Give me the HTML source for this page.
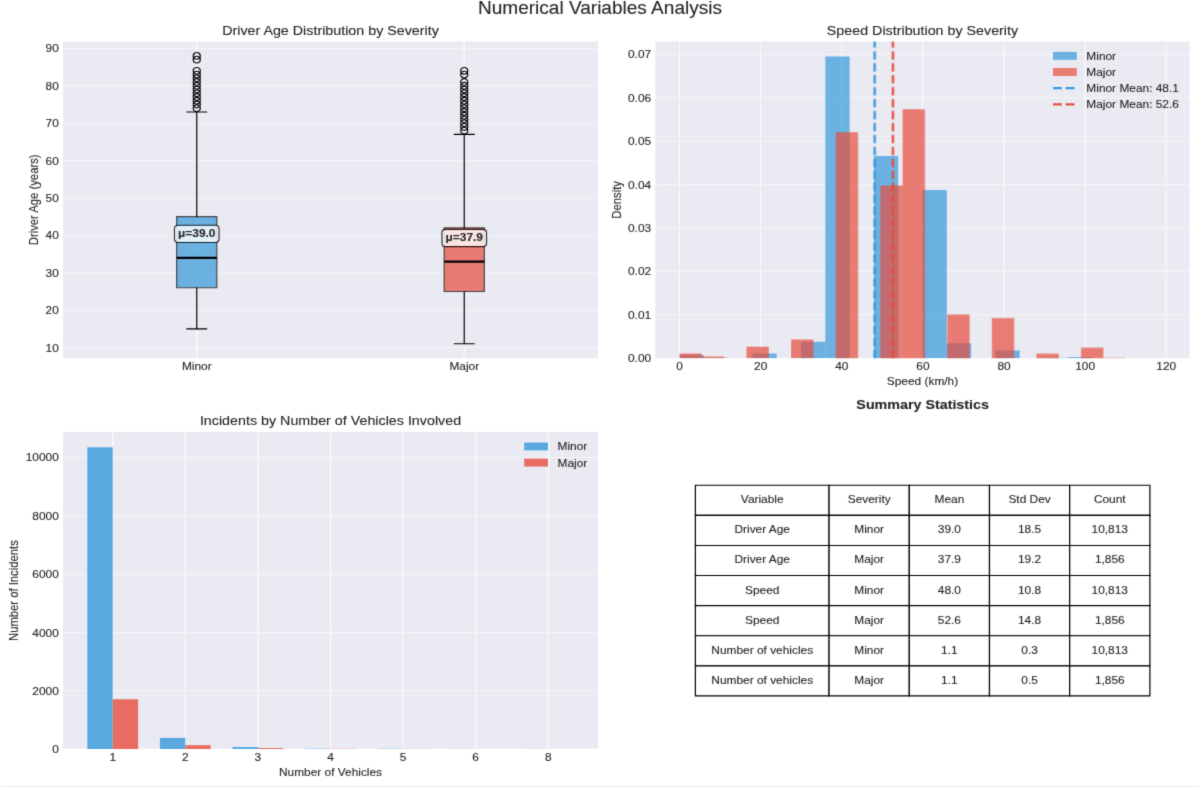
<!DOCTYPE html>
<html><head><meta charset="utf-8"><title>Numerical Variables Analysis</title>
<style>html,body{margin:0;padding:0;background:#fff;width:1200px;height:788px;overflow:hidden;position:relative}svg{display:block}
text{font-family:"Liberation Sans",sans-serif;stroke:#262626;stroke-width:0.1px;stroke-opacity:1}
.edge{position:absolute;left:1px;right:1px;top:786px;height:1px;background:#e8f1e8}</style></head><body>
<svg width="1200" height="788" preserveAspectRatio="none" viewBox="0 0 1008 699.20142" version="1.1"> <defs><filter id="soft" x="0" y="0" width="1" height="1" filterUnits="objectBoundingBox" color-interpolation-filters="sRGB"><feConvolveMatrix order="3" kernelMatrix="1 6 1 6 36 6 1 6 1" divisor="64" edgeMode="duplicate"/></filter> <style type="text/css">*{stroke-linejoin: round; stroke-linecap: butt}</style> </defs> <g id="figure_1" filter="url(#soft)"> <g id="patch_1"> <path d="M 0 699.20142 L 1008 699.20142 L 1008 0 L 0 0 z " style="fill: #ffffff"/> </g> <g id="axes_1"> <g id="patch_2"> <path d="M 52.92 317.83496 L 502.32 317.83496 L 502.32 36.823425 L 52.92 36.823425 z " style="fill: #eaeaf2"/> </g> <g id="matplotlib.axis_1"> <g id="xtick_1"> <g id="line2d_1"> <path d="M 165.27 317.83496 L 165.27 36.823425 " clip-path="url(#p9fd3da8a66)" style="fill: none; stroke: #ffffff; stroke-width: 0.8; stroke-linecap: round"/> </g> <g id="line2d_2"/> <g id="text_1"> <text style="font-size: 10px; font-family: 'Liberation Sans', sans-serif; text-anchor: middle; fill: #262626" x="165.27" y="328.581835">Minor</text> </g> </g> <g id="xtick_2"> <g id="line2d_3"> <path d="M 389.97 317.83496 L 389.97 36.823425 " clip-path="url(#p9fd3da8a66)" style="fill: none; stroke: #ffffff; stroke-width: 0.8; stroke-linecap: round"/> </g> <g id="line2d_4"/> <g id="text_2"> <text style="font-size: 10px; font-family: 'Liberation Sans', sans-serif; text-anchor: middle; fill: #262626" x="389.97" y="328.581835">Major</text> </g> </g> </g> <g id="matplotlib.axis_2"> <g id="ytick_1"> <g id="line2d_5"> <path d="M 52.92 308.379436 L 502.32 308.379436 " clip-path="url(#p9fd3da8a66)" style="fill: none; stroke: #ffffff; stroke-opacity: 0.5; stroke-width: 0.8; stroke-linecap: round"/> </g> <g id="line2d_6"/> <g id="text_3"> <text style="font-size: 10px; font-family: 'Liberation Sans', sans-serif; text-anchor: end; fill: #262626" x="49.42" y="312.002874">10</text> </g> </g> <g id="ytick_2"> <g id="line2d_7"> <path d="M 52.92 275.202159 L 502.32 275.202159 " clip-path="url(#p9fd3da8a66)" style="fill: none; stroke: #ffffff; stroke-opacity: 0.5; stroke-width: 0.8; stroke-linecap: round"/> </g> <g id="line2d_8"/> <g id="text_4"> <text style="font-size: 10px; font-family: 'Liberation Sans', sans-serif; text-anchor: end; fill: #262626" x="49.42" y="278.825597">20</text> </g> </g> <g id="ytick_3"> <g id="line2d_9"> <path d="M 52.92 242.024882 L 502.32 242.024882 " clip-path="url(#p9fd3da8a66)" style="fill: none; stroke: #ffffff; stroke-opacity: 0.5; stroke-width: 0.8; stroke-linecap: round"/> </g> <g id="line2d_10"/> <g id="text_5"> <text style="font-size: 10px; font-family: 'Liberation Sans', sans-serif; text-anchor: end; fill: #262626" x="49.42" y="245.64832">30</text> </g> </g> <g id="ytick_4"> <g id="line2d_11"> <path d="M 52.92 208.847606 L 502.32 208.847606 " clip-path="url(#p9fd3da8a66)" style="fill: none; stroke: #ffffff; stroke-opacity: 0.5; stroke-width: 0.8; stroke-linecap: round"/> </g> <g id="line2d_12"/> <g id="text_6"> <text style="font-size: 10px; font-family: 'Liberation Sans', sans-serif; text-anchor: end; fill: #262626" x="49.42" y="212.471043">40</text> </g> </g> <g id="ytick_5"> <g id="line2d_13"> <path d="M 52.92 175.670329 L 502.32 175.670329 " clip-path="url(#p9fd3da8a66)" style="fill: none; stroke: #ffffff; stroke-opacity: 0.5; stroke-width: 0.8; stroke-linecap: round"/> </g> <g id="line2d_14"/> <g id="text_7"> <text style="font-size: 10px; font-family: 'Liberation Sans', sans-serif; text-anchor: end; fill: #262626" x="49.42" y="179.293766">50</text> </g> </g> <g id="ytick_6"> <g id="line2d_15"> <path d="M 52.92 142.493052 L 502.32 142.493052 " clip-path="url(#p9fd3da8a66)" style="fill: none; stroke: #ffffff; stroke-opacity: 0.5; stroke-width: 0.8; stroke-linecap: round"/> </g> <g id="line2d_16"/> <g id="text_8"> <text style="font-size: 10px; font-family: 'Liberation Sans', sans-serif; text-anchor: end; fill: #262626" x="49.42" y="146.116489">60</text> </g> </g> <g id="ytick_7"> <g id="line2d_17"> <path d="M 52.92 109.315775 L 502.32 109.315775 " clip-path="url(#p9fd3da8a66)" style="fill: none; stroke: #ffffff; stroke-opacity: 0.5; stroke-width: 0.8; stroke-linecap: round"/> </g> <g id="line2d_18"/> <g id="text_9"> <text style="font-size: 10px; font-family: 'Liberation Sans', sans-serif; text-anchor: end; fill: #262626" x="49.42" y="112.939212">70</text> </g> </g> <g id="ytick_8"> <g id="line2d_19"> <path d="M 52.92 76.138498 L 502.32 76.138498 " clip-path="url(#p9fd3da8a66)" style="fill: none; stroke: #ffffff; stroke-opacity: 0.5; stroke-width: 0.8; stroke-linecap: round"/> </g> <g id="line2d_20"/> <g id="text_10"> <text style="font-size: 10px; font-family: 'Liberation Sans', sans-serif; text-anchor: end; fill: #262626" x="49.42" y="79.761936">80</text> </g> </g> <g id="ytick_9"> <g id="line2d_21"> <path d="M 52.92 42.961221 L 502.32 42.961221 " clip-path="url(#p9fd3da8a66)" style="fill: none; stroke: #ffffff; stroke-opacity: 0.5; stroke-width: 0.8; stroke-linecap: round"/> </g> <g id="line2d_22"/> <g id="text_11"> <text style="font-size: 10px; font-family: 'Liberation Sans', sans-serif; text-anchor: end; fill: #262626" x="49.42" y="46.584659">90</text> </g> </g> <g id="text_12"> <text style="font-size: 10px; font-family: 'Liberation Sans', sans-serif; text-anchor: middle; fill: #262626" x="32.223125" y="177.329193" transform="rotate(-90 32.223125 177.329193)">Driver Age (years)</text> </g> </g> <g id="patch_3"> <path d="M 148.4175 255.295793 L 182.1225 255.295793 L 182.1225 192.258967 L 148.4175 192.258967 L 148.4175 255.295793 z " clip-path="url(#p9fd3da8a66)" style="fill: #3498db; opacity: 0.7; stroke: #000000; stroke-linejoin: miter"/> </g> <g id="line2d_23"> <path d="M 165.27 255.295793 L 165.27 291.790798 " clip-path="url(#p9fd3da8a66)" style="fill: none; stroke: #000000; stroke-linecap: round"/> </g> <g id="line2d_24"> <path d="M 165.27 192.258967 L 165.27 99.362592 " clip-path="url(#p9fd3da8a66)" style="fill: none; stroke: #000000; stroke-linecap: round"/> </g> <g id="line2d_25"> <path d="M 156.84375 291.790798 L 173.69625 291.790798 " clip-path="url(#p9fd3da8a66)" style="fill: none; stroke: #000000; stroke-linecap: round"/> </g> <g id="line2d_26"> <path d="M 156.84375 99.362592 L 173.69625 99.362592 " clip-path="url(#p9fd3da8a66)" style="fill: none; stroke: #000000; stroke-linecap: round"/> </g> <g id="line2d_27"> <defs> <path id="macc15b09c7" d="M 0 3 C 0.795609 3 1.55874 2.683901 2.12132 2.12132 C 2.683901 1.55874 3 0.795609 3 0 C 3 -0.795609 2.683901 -1.55874 2.12132 -2.12132 C 1.55874 -2.683901 0.795609 -3 0 -3 C -0.795609 -3 -1.55874 -2.683901 -2.12132 -2.12132 C -2.683901 -1.55874 -3 -0.795609 -3 0 C -3 0.795609 -2.683901 1.55874 -2.12132 2.12132 C -1.55874 2.683901 -0.795609 3 0 3 z " style="stroke: #000000"/> </defs> <g clip-path="url(#p9fd3da8a66)"> <use href="#macc15b09c7" x="165.27" y="96.044864" style="fill-opacity: 0; stroke: #000000"/> <use href="#macc15b09c7" x="165.27" y="92.727137" style="fill-opacity: 0; stroke: #000000"/> <use href="#macc15b09c7" x="165.27" y="89.409409" style="fill-opacity: 0; stroke: #000000"/> <use href="#macc15b09c7" x="165.27" y="86.091681" style="fill-opacity: 0; stroke: #000000"/> <use href="#macc15b09c7" x="165.27" y="82.773953" style="fill-opacity: 0; stroke: #000000"/> <use href="#macc15b09c7" x="165.27" y="79.456226" style="fill-opacity: 0; stroke: #000000"/> <use href="#macc15b09c7" x="165.27" y="76.138498" style="fill-opacity: 0; stroke: #000000"/> <use href="#macc15b09c7" x="165.27" y="72.82077" style="fill-opacity: 0; stroke: #000000"/> <use href="#macc15b09c7" x="165.27" y="69.503043" style="fill-opacity: 0; stroke: #000000"/> <use href="#macc15b09c7" x="165.27" y="66.185315" style="fill-opacity: 0; stroke: #000000"/> <use href="#macc15b09c7" x="165.27" y="62.867587" style="fill-opacity: 0; stroke: #000000"/> <use href="#macc15b09c7" x="165.27" y="52.914404" style="fill-opacity: 0; stroke: #000000"/> <use href="#macc15b09c7" x="165.27" y="49.596677" style="fill-opacity: 0; stroke: #000000"/> </g> </g> <g id="patch_4"> <path d="M 373.1175 258.613521 L 406.8225 258.613521 L 406.8225 202.21215 L 373.1175 202.21215 L 373.1175 258.613521 z " clip-path="url(#p9fd3da8a66)" style="fill: #e74c3c; opacity: 0.7; stroke: #000000; stroke-linejoin: miter"/> </g> <g id="line2d_28"> <path d="M 389.97 258.613521 L 389.97 305.061708 " clip-path="url(#p9fd3da8a66)" style="fill: none; stroke: #000000; stroke-linecap: round"/> </g> <g id="line2d_29"> <path d="M 389.97 202.21215 L 389.97 119.268958 " clip-path="url(#p9fd3da8a66)" style="fill: none; stroke: #000000; stroke-linecap: round"/> </g> <g id="line2d_30"> <path d="M 381.54375 305.061708 L 398.39625 305.061708 " clip-path="url(#p9fd3da8a66)" style="fill: none; stroke: #000000; stroke-linecap: round"/> </g> <g id="line2d_31"> <path d="M 381.54375 119.268958 L 398.39625 119.268958 " clip-path="url(#p9fd3da8a66)" style="fill: none; stroke: #000000; stroke-linecap: round"/> </g> <g id="line2d_32"> <g clip-path="url(#p9fd3da8a66)"> <use href="#macc15b09c7" x="389.97" y="115.95123" style="fill-opacity: 0; stroke: #000000"/> <use href="#macc15b09c7" x="389.97" y="112.633503" style="fill-opacity: 0; stroke: #000000"/> <use href="#macc15b09c7" x="389.97" y="109.315775" style="fill-opacity: 0; stroke: #000000"/> <use href="#macc15b09c7" x="389.97" y="105.998047" style="fill-opacity: 0; stroke: #000000"/> <use href="#macc15b09c7" x="389.97" y="102.68032" style="fill-opacity: 0; stroke: #000000"/> <use href="#macc15b09c7" x="389.97" y="99.362592" style="fill-opacity: 0; stroke: #000000"/> <use href="#macc15b09c7" x="389.97" y="96.044864" style="fill-opacity: 0; stroke: #000000"/> <use href="#macc15b09c7" x="389.97" y="92.727137" style="fill-opacity: 0; stroke: #000000"/> <use href="#macc15b09c7" x="389.97" y="89.409409" style="fill-opacity: 0; stroke: #000000"/> <use href="#macc15b09c7" x="389.97" y="86.091681" style="fill-opacity: 0; stroke: #000000"/> <use href="#macc15b09c7" x="389.97" y="82.773953" style="fill-opacity: 0; stroke: #000000"/> <use href="#macc15b09c7" x="389.97" y="79.456226" style="fill-opacity: 0; stroke: #000000"/> <use href="#macc15b09c7" x="389.97" y="76.138498" style="fill-opacity: 0; stroke: #000000"/> <use href="#macc15b09c7" x="389.97" y="72.82077" style="fill-opacity: 0; stroke: #000000"/> <use href="#macc15b09c7" x="389.97" y="66.185315" style="fill-opacity: 0; stroke: #000000"/> <use href="#macc15b09c7" x="389.97" y="62.867587" style="fill-opacity: 0; stroke: #000000"/> </g> </g> <g id="line2d_33"> <path d="M 148.4175 228.753972 L 182.1225 228.753972 " clip-path="url(#p9fd3da8a66)" style="fill: none; stroke: #000000; stroke-width: 2"/> </g> <g id="line2d_34"> <path d="M 373.1175 232.071699 L 406.8225 232.071699 " clip-path="url(#p9fd3da8a66)" style="fill: none; stroke: #000000; stroke-width: 2"/> </g> <g id="patch_5"> <path d="M 52.92 317.83496 L 52.92 36.823425 " style="fill: none"/> </g> <g id="patch_6"> <path d="M 502.32 317.83496 L 502.32 36.823425 " style="fill: none"/> </g> <g id="patch_7"> <path d="M 52.92 317.83496 L 502.32 317.83496 " style="fill: none"/> </g> <g id="patch_8"> <path d="M 52.92 36.823425 L 502.32 36.823425 " style="fill: none"/> </g> <g id="text_13"> <g id="patch_9"> <path d="M 149.559844 215.165333 L 180.980156 215.165333 Q 183.980156 215.165333 183.980156 212.165333 L 183.980156 202.843458 Q 183.980156 199.843458 180.980156 199.843458 L 149.559844 199.843458 Q 146.559844 199.843458 146.559844 202.843458 L 146.559844 212.165333 Q 146.559844 215.165333 149.559844 215.165333 z " style="fill: #ffffff; opacity: 0.8; stroke: #000000; stroke-linejoin: miter"/> </g> <text style="font-weight: 700; font-size: 10px; font-family: 'Liberation Sans', sans-serif; text-anchor: middle; fill: #262626" x="165.27" y="210.090333">μ=39.0</text> </g> <g id="text_14"> <g id="patch_10"> <path d="M 374.259844 218.814834 L 405.680156 218.814834 Q 408.680156 218.814834 408.680156 215.814834 L 408.680156 206.492959 Q 408.680156 203.492959 405.680156 203.492959 L 374.259844 203.492959 Q 371.259844 203.492959 371.259844 206.492959 L 371.259844 215.814834 Q 371.259844 218.814834 374.259844 218.814834 z " style="fill: #ffffff; opacity: 0.8; stroke: #000000; stroke-linejoin: miter"/> </g> <text style="font-weight: 700; font-size: 10px; font-family: 'Liberation Sans', sans-serif; text-anchor: middle; fill: #262626" x="389.97" y="213.739834">μ=37.9</text> </g> <g id="text_15"> <text style="font-size: 12px; font-family: 'Liberation Sans', sans-serif; text-anchor: middle; fill: #262626" x="277.62" y="30.823425">Driver Age Distribution by Severity</text> </g> </g> <g id="axes_2"> <g id="patch_11"> <path d="M 550.452 317.83496 L 999.348 317.83496 L 999.348 36.823425 L 550.452 36.823425 z " style="fill: #eaeaf2"/> </g> <g id="matplotlib.axis_3"> <g id="xtick_3"> <g id="line2d_35"> <path d="M 570.856364 317.83496 L 570.856364 36.823425 " clip-path="url(#p50f9d82203)" style="fill: none; stroke: #ffffff; stroke-width: 0.8; stroke-linecap: round"/> </g> <g id="line2d_36"/> <g id="text_16"> <text style="font-size: 10px; font-family: 'Liberation Sans', sans-serif; text-anchor: middle; fill: #262626" x="570.856364" y="328.581835">0</text> </g> </g> <g id="xtick_4"> <g id="line2d_37"> <path d="M 638.984456 317.83496 L 638.984456 36.823425 " clip-path="url(#p50f9d82203)" style="fill: none; stroke: #ffffff; stroke-width: 0.8; stroke-linecap: round"/> </g> <g id="line2d_38"/> <g id="text_17"> <text style="font-size: 10px; font-family: 'Liberation Sans', sans-serif; text-anchor: middle; fill: #262626" x="638.984456" y="328.581835">20</text> </g> </g> <g id="xtick_5"> <g id="line2d_39"> <path d="M 707.112548 317.83496 L 707.112548 36.823425 " clip-path="url(#p50f9d82203)" style="fill: none; stroke: #ffffff; stroke-width: 0.8; stroke-linecap: round"/> </g> <g id="line2d_40"/> <g id="text_18"> <text style="font-size: 10px; font-family: 'Liberation Sans', sans-serif; text-anchor: middle; fill: #262626" x="707.112548" y="328.581835">40</text> </g> </g> <g id="xtick_6"> <g id="line2d_41"> <path d="M 775.24064 317.83496 L 775.24064 36.823425 " clip-path="url(#p50f9d82203)" style="fill: none; stroke: #ffffff; stroke-width: 0.8; stroke-linecap: round"/> </g> <g id="line2d_42"/> <g id="text_19"> <text style="font-size: 10px; font-family: 'Liberation Sans', sans-serif; text-anchor: middle; fill: #262626" x="775.24064" y="328.581835">60</text> </g> </g> <g id="xtick_7"> <g id="line2d_43"> <path d="M 843.368733 317.83496 L 843.368733 36.823425 " clip-path="url(#p50f9d82203)" style="fill: none; stroke: #ffffff; stroke-width: 0.8; stroke-linecap: round"/> </g> <g id="line2d_44"/> <g id="text_20"> <text style="font-size: 10px; font-family: 'Liberation Sans', sans-serif; text-anchor: middle; fill: #262626" x="843.368733" y="328.581835">80</text> </g> </g> <g id="xtick_8"> <g id="line2d_45"> <path d="M 911.496825 317.83496 L 911.496825 36.823425 " clip-path="url(#p50f9d82203)" style="fill: none; stroke: #ffffff; stroke-width: 0.8; stroke-linecap: round"/> </g> <g id="line2d_46"/> <g id="text_21"> <text style="font-size: 10px; font-family: 'Liberation Sans', sans-serif; text-anchor: middle; fill: #262626" x="911.496825" y="328.581835">100</text> </g> </g> <g id="xtick_9"> <g id="line2d_47"> <path d="M 979.624917 317.83496 L 979.624917 36.823425 " clip-path="url(#p50f9d82203)" style="fill: none; stroke: #ffffff; stroke-width: 0.8; stroke-linecap: round"/> </g> <g id="line2d_48"/> <g id="text_22"> <text style="font-size: 10px; font-family: 'Liberation Sans', sans-serif; text-anchor: middle; fill: #262626" x="979.624917" y="328.581835">120</text> </g> </g> <g id="text_23"> <text style="font-size: 10px; font-family: 'Liberation Sans', sans-serif; text-anchor: middle; fill: #262626" x="774.9" y="341.90371">Speed (km/h)</text> </g> </g> <g id="matplotlib.axis_4"> <g id="ytick_10"> <g id="line2d_49"> <path d="M 550.452 317.83496 L 999.348 317.83496 " clip-path="url(#p50f9d82203)" style="fill: none; stroke: #ffffff; stroke-opacity: 0.5; stroke-width: 0.8; stroke-linecap: round"/> </g> <g id="line2d_50"/> <g id="text_24"> <text style="font-size: 10px; font-family: 'Liberation Sans', sans-serif; text-anchor: end; fill: #262626" x="546.952" y="321.458398">0.00</text> </g> </g> <g id="ytick_11"> <g id="line2d_51"> <path d="M 550.452 279.327042 L 999.348 279.327042 " clip-path="url(#p50f9d82203)" style="fill: none; stroke: #ffffff; stroke-opacity: 0.5; stroke-width: 0.8; stroke-linecap: round"/> </g> <g id="line2d_52"/> <g id="text_25"> <text style="font-size: 10px; font-family: 'Liberation Sans', sans-serif; text-anchor: end; fill: #262626" x="546.952" y="282.950479">0.01</text> </g> </g> <g id="ytick_12"> <g id="line2d_53"> <path d="M 550.452 240.819123 L 999.348 240.819123 " clip-path="url(#p50f9d82203)" style="fill: none; stroke: #ffffff; stroke-opacity: 0.5; stroke-width: 0.8; stroke-linecap: round"/> </g> <g id="line2d_54"/> <g id="text_26"> <text style="font-size: 10px; font-family: 'Liberation Sans', sans-serif; text-anchor: end; fill: #262626" x="546.952" y="244.442561">0.02</text> </g> </g> <g id="ytick_13"> <g id="line2d_55"> <path d="M 550.452 202.311205 L 999.348 202.311205 " clip-path="url(#p50f9d82203)" style="fill: none; stroke: #ffffff; stroke-opacity: 0.5; stroke-width: 0.8; stroke-linecap: round"/> </g> <g id="line2d_56"/> <g id="text_27"> <text style="font-size: 10px; font-family: 'Liberation Sans', sans-serif; text-anchor: end; fill: #262626" x="546.952" y="205.934642">0.03</text> </g> </g> <g id="ytick_14"> <g id="line2d_57"> <path d="M 550.452 163.803286 L 999.348 163.803286 " clip-path="url(#p50f9d82203)" style="fill: none; stroke: #ffffff; stroke-opacity: 0.5; stroke-width: 0.8; stroke-linecap: round"/> </g> <g id="line2d_58"/> <g id="text_28"> <text style="font-size: 10px; font-family: 'Liberation Sans', sans-serif; text-anchor: end; fill: #262626" x="546.952" y="167.426724">0.04</text> </g> </g> <g id="ytick_15"> <g id="line2d_59"> <path d="M 550.452 125.295368 L 999.348 125.295368 " clip-path="url(#p50f9d82203)" style="fill: none; stroke: #ffffff; stroke-opacity: 0.5; stroke-width: 0.8; stroke-linecap: round"/> </g> <g id="line2d_60"/> <g id="text_29"> <text style="font-size: 10px; font-family: 'Liberation Sans', sans-serif; text-anchor: end; fill: #262626" x="546.952" y="128.918805">0.05</text> </g> </g> <g id="ytick_16"> <g id="line2d_61"> <path d="M 550.452 86.787449 L 999.348 86.787449 " clip-path="url(#p50f9d82203)" style="fill: none; stroke: #ffffff; stroke-opacity: 0.5; stroke-width: 0.8; stroke-linecap: round"/> </g> <g id="line2d_62"/> <g id="text_30"> <text style="font-size: 10px; font-family: 'Liberation Sans', sans-serif; text-anchor: end; fill: #262626" x="546.952" y="90.410887">0.06</text> </g> </g> <g id="ytick_17"> <g id="line2d_63"> <path d="M 550.452 48.279531 L 999.348 48.279531 " clip-path="url(#p50f9d82203)" style="fill: none; stroke: #ffffff; stroke-opacity: 0.5; stroke-width: 0.8; stroke-linecap: round"/> </g> <g id="line2d_64"/> <g id="text_31"> <text style="font-size: 10px; font-family: 'Liberation Sans', sans-serif; text-anchor: end; fill: #262626" x="546.952" y="51.902968">0.07</text> </g> </g> <g id="text_32"> <text style="font-size: 10px; font-family: 'Liberation Sans', sans-serif; text-anchor: middle; fill: #262626" x="521.416062" y="177.329193" transform="rotate(-90 521.416062 177.329193)">Density</text> </g> </g> <g id="patch_12"> <path d="M 570.856364 317.83496 L 591.260727 317.83496 L 591.260727 315.139406 L 570.856364 315.139406 z " clip-path="url(#p50f9d82203)" style="fill: #3498db; opacity: 0.7"/> </g> <g id="patch_13"> <path d="M 591.260727 317.83496 L 611.665091 317.83496 L 611.665091 317.449881 L 591.260727 317.449881 z " clip-path="url(#p50f9d82203)" style="fill: #3498db; opacity: 0.7"/> </g> <g id="patch_14"> <path d="M 611.665091 317.83496 L 632.069455 317.83496 L 632.069455 317.83496 L 611.665091 317.83496 z " clip-path="url(#p50f9d82203)" style="fill: #3498db; opacity: 0.7"/> </g> <g id="patch_15"> <path d="M 632.069455 317.83496 L 652.473818 317.83496 L 652.473818 313.753121 L 632.069455 313.753121 z " clip-path="url(#p50f9d82203)" style="fill: #3498db; opacity: 0.7"/> </g> <g id="patch_16"> <path d="M 652.473818 317.83496 L 672.878182 317.83496 L 672.878182 317.83496 L 652.473818 317.83496 z " clip-path="url(#p50f9d82203)" style="fill: #3498db; opacity: 0.7"/> </g> <g id="patch_17"> <path d="M 672.878182 317.83496 L 693.282545 317.83496 L 693.282545 303.278967 L 672.878182 303.278967 z " clip-path="url(#p50f9d82203)" style="fill: #3498db; opacity: 0.7"/> </g> <g id="patch_18"> <path d="M 693.282545 317.83496 L 713.686909 317.83496 L 713.686909 50.204927 L 693.282545 50.204927 z " clip-path="url(#p50f9d82203)" style="fill: #3498db; opacity: 0.7"/> </g> <g id="patch_19"> <path d="M 713.686909 317.83496 L 734.091273 317.83496 L 734.091273 317.83496 L 713.686909 317.83496 z " clip-path="url(#p50f9d82203)" style="fill: #3498db; opacity: 0.7"/> </g> <g id="patch_20"> <path d="M 734.091273 317.83496 L 754.495636 317.83496 L 754.495636 138.503584 L 734.091273 138.503584 z " clip-path="url(#p50f9d82203)" style="fill: #3498db; opacity: 0.7"/> </g> <g id="patch_21"> <path d="M 754.495636 317.83496 L 774.9 317.83496 L 774.9 317.83496 L 754.495636 317.83496 z " clip-path="url(#p50f9d82203)" style="fill: #3498db; opacity: 0.7"/> </g> <g id="patch_22"> <path d="M 774.9 317.83496 L 795.304364 317.83496 L 795.304364 168.693792 L 774.9 168.693792 z " clip-path="url(#p50f9d82203)" style="fill: #3498db; opacity: 0.7"/> </g> <g id="patch_23"> <path d="M 795.304364 317.83496 L 815.708727 317.83496 L 815.708727 304.665252 L 795.304364 304.665252 z " clip-path="url(#p50f9d82203)" style="fill: #3498db; opacity: 0.7"/> </g> <g id="patch_24"> <path d="M 815.708727 317.83496 L 836.113091 317.83496 L 836.113091 317.83496 L 815.708727 317.83496 z " clip-path="url(#p50f9d82203)" style="fill: #3498db; opacity: 0.7"/> </g> <g id="patch_25"> <path d="M 836.113091 317.83496 L 856.517455 317.83496 L 856.517455 311.096074 L 836.113091 311.096074 z " clip-path="url(#p50f9d82203)" style="fill: #3498db; opacity: 0.7"/> </g> <g id="patch_26"> <path d="M 856.517455 317.83496 L 876.921818 317.83496 L 876.921818 317.83496 L 856.517455 317.83496 z " clip-path="url(#p50f9d82203)" style="fill: #3498db; opacity: 0.7"/> </g> <g id="patch_27"> <path d="M 876.921818 317.83496 L 897.326182 317.83496 L 897.326182 317.449881 L 876.921818 317.449881 z " clip-path="url(#p50f9d82203)" style="fill: #3498db; opacity: 0.7"/> </g> <g id="patch_28"> <path d="M 897.326182 317.83496 L 917.730545 317.83496 L 917.730545 316.872262 L 897.326182 316.872262 z " clip-path="url(#p50f9d82203)" style="fill: #3498db; opacity: 0.7"/> </g> <g id="patch_29"> <path d="M 917.730545 317.83496 L 938.134909 317.83496 L 938.134909 317.83496 L 917.730545 317.83496 z " clip-path="url(#p50f9d82203)" style="fill: #3498db; opacity: 0.7"/> </g> <g id="patch_30"> <path d="M 938.134909 317.83496 L 958.539273 317.83496 L 958.539273 317.83496 L 938.134909 317.83496 z " clip-path="url(#p50f9d82203)" style="fill: #3498db; opacity: 0.7"/> </g> <g id="patch_31"> <path d="M 958.539273 317.83496 L 978.943636 317.83496 L 978.943636 317.719436 L 958.539273 317.719436 z " clip-path="url(#p50f9d82203)" style="fill: #3498db; opacity: 0.7"/> </g> <g id="patch_32"> <path d="M 570.856364 317.83496 L 589.591589 317.83496 L 589.591589 313.753121 L 570.856364 313.753121 z " clip-path="url(#p50f9d82203)" style="fill: #e74c3c; opacity: 0.7"/> </g> <g id="patch_33"> <path d="M 589.591589 317.83496 L 608.326814 317.83496 L 608.326814 316.217627 L 589.591589 316.217627 z " clip-path="url(#p50f9d82203)" style="fill: #e74c3c; opacity: 0.7"/> </g> <g id="patch_34"> <path d="M 608.326814 317.83496 L 627.06204 317.83496 L 627.06204 317.83496 L 608.326814 317.83496 z " clip-path="url(#p50f9d82203)" style="fill: #e74c3c; opacity: 0.7"/> </g> <g id="patch_35"> <path d="M 627.06204 317.83496 L 645.797265 317.83496 L 645.797265 307.707378 L 627.06204 307.707378 z " clip-path="url(#p50f9d82203)" style="fill: #e74c3c; opacity: 0.7"/> </g> <g id="patch_36"> <path d="M 645.797265 317.83496 L 664.532491 317.83496 L 664.532491 317.83496 L 645.797265 317.83496 z " clip-path="url(#p50f9d82203)" style="fill: #e74c3c; opacity: 0.7"/> </g> <g id="patch_37"> <path d="M 664.532491 317.83496 L 683.267716 317.83496 L 683.267716 301.315063 L 664.532491 301.315063 z " clip-path="url(#p50f9d82203)" style="fill: #e74c3c; opacity: 0.7"/> </g> <g id="patch_38"> <path d="M 683.267716 317.83496 L 702.002941 317.83496 L 702.002941 317.83496 L 683.267716 317.83496 z " clip-path="url(#p50f9d82203)" style="fill: #e74c3c; opacity: 0.7"/> </g> <g id="patch_39"> <path d="M 702.002941 317.83496 L 720.738167 317.83496 L 720.738167 117.208705 L 702.002941 117.208705 z " clip-path="url(#p50f9d82203)" style="fill: #e74c3c; opacity: 0.7"/> </g> <g id="patch_40"> <path d="M 720.738167 317.83496 L 739.473392 317.83496 L 739.473392 317.83496 L 720.738167 317.83496 z " clip-path="url(#p50f9d82203)" style="fill: #e74c3c; opacity: 0.7"/> </g> <g id="patch_41"> <path d="M 739.473392 317.83496 L 758.208617 317.83496 L 758.208617 164.573445 L 739.473392 164.573445 z " clip-path="url(#p50f9d82203)" style="fill: #e74c3c; opacity: 0.7"/> </g> <g id="patch_42"> <path d="M 758.208617 317.83496 L 776.943843 317.83496 L 776.943843 96.799508 L 758.208617 96.799508 z " clip-path="url(#p50f9d82203)" style="fill: #e74c3c; opacity: 0.7"/> </g> <g id="patch_43"> <path d="M 776.943843 317.83496 L 795.679068 317.83496 L 795.679068 317.83496 L 776.943843 317.83496 z " clip-path="url(#p50f9d82203)" style="fill: #e74c3c; opacity: 0.7"/> </g> <g id="patch_44"> <path d="M 795.679068 317.83496 L 814.414294 317.83496 L 814.414294 278.941962 L 795.679068 278.941962 z " clip-path="url(#p50f9d82203)" style="fill: #e74c3c; opacity: 0.7"/> </g> <g id="patch_45"> <path d="M 814.414294 317.83496 L 833.149519 317.83496 L 833.149519 317.83496 L 814.414294 317.83496 z " clip-path="url(#p50f9d82203)" style="fill: #e74c3c; opacity: 0.7"/> </g> <g id="patch_46"> <path d="M 833.149519 317.83496 L 851.884744 317.83496 L 851.884744 282.215135 L 833.149519 282.215135 z " clip-path="url(#p50f9d82203)" style="fill: #e74c3c; opacity: 0.7"/> </g> <g id="patch_47"> <path d="M 851.884744 317.83496 L 870.61997 317.83496 L 870.61997 317.83496 L 851.884744 317.83496 z " clip-path="url(#p50f9d82203)" style="fill: #e74c3c; opacity: 0.7"/> </g> <g id="patch_48"> <path d="M 870.61997 317.83496 L 889.355195 317.83496 L 889.355195 313.753121 L 870.61997 313.753121 z " clip-path="url(#p50f9d82203)" style="fill: #e74c3c; opacity: 0.7"/> </g> <g id="patch_49"> <path d="M 889.355195 317.83496 L 908.09042 317.83496 L 908.09042 317.83496 L 889.355195 317.83496 z " clip-path="url(#p50f9d82203)" style="fill: #e74c3c; opacity: 0.7"/> </g> <g id="patch_50"> <path d="M 908.09042 317.83496 L 926.825646 317.83496 L 926.825646 308.40052 L 908.09042 308.40052 z " clip-path="url(#p50f9d82203)" style="fill: #e74c3c; opacity: 0.7"/> </g> <g id="patch_51"> <path d="M 926.825646 317.83496 L 945.560871 317.83496 L 945.560871 317.449881 L 926.825646 317.449881 z " clip-path="url(#p50f9d82203)" style="fill: #e74c3c; opacity: 0.7"/> </g> <g id="line2d_65"> <path d="M 734.704426 317.83496 L 734.704426 36.823425 " clip-path="url(#p50f9d82203)" style="fill: none; stroke-dasharray: 7.4,3.2; stroke-dashoffset: 0; stroke: #3498db; stroke-width: 2"/> </g> <g id="line2d_66"> <path d="M 750.033246 317.83496 L 750.033246 36.823425 " clip-path="url(#p50f9d82203)" style="fill: none; stroke-dasharray: 7.4,3.2; stroke-dashoffset: 0; stroke: #e74c3c; stroke-width: 2"/> </g> <g id="patch_52"> <path d="M 550.452 317.83496 L 550.452 36.823425 " style="fill: none"/> </g> <g id="patch_53"> <path d="M 999.348 317.83496 L 999.348 36.823425 " style="fill: none"/> </g> <g id="patch_54"> <path d="M 550.452 317.83496 L 999.348 317.83496 " style="fill: none"/> </g> <g id="patch_55"> <path d="M 550.452 36.823425 L 999.348 36.823425 " style="fill: none"/> </g> <g id="text_33"> <text style="font-size: 12px; font-family: 'Liberation Sans', sans-serif; text-anchor: middle; fill: #262626" x="774.9" y="30.823425">Speed Distribution by Severity</text> </g> <g id="legend_1"> <g id="patch_56"> <path d="M 884.537062 53.0703 L 904.537062 53.0703 L 904.537062 46.0703 L 884.537062 46.0703 z " style="fill: #3498db; opacity: 0.7"/> </g> <g id="text_34"> <text style="font-size: 10px; font-family: 'Liberation Sans', sans-serif; text-anchor: start; fill: #262626" x="912.537062" y="53.0703">Minor</text> </g> <g id="patch_57"> <path d="M 884.537062 67.392175 L 904.537062 67.392175 L 904.537062 60.392175 L 884.537062 60.392175 z " style="fill: #e74c3c; opacity: 0.7"/> </g> <g id="text_35"> <text style="font-size: 10px; font-family: 'Liberation Sans', sans-serif; text-anchor: start; fill: #262626" x="912.537062" y="67.392175">Major</text> </g> <g id="line2d_67"> <path d="M 884.537062 78.21405 L 894.537062 78.21405 L 904.537062 78.21405 " style="fill: none; stroke-dasharray: 7.4,3.2; stroke-dashoffset: 0; stroke: #3498db; stroke-width: 2"/> </g> <g id="text_36"> <text style="font-size: 10px; font-family: 'Liberation Sans', sans-serif; text-anchor: start; fill: #262626" x="912.537062" y="81.71405">Minor Mean: 48.1</text> </g> <g id="line2d_68"> <path d="M 884.537062 92.535925 L 894.537062 92.535925 L 904.537062 92.535925 " style="fill: none; stroke-dasharray: 7.4,3.2; stroke-dashoffset: 0; stroke: #e74c3c; stroke-width: 2"/> </g> <g id="text_37"> <text style="font-size: 10px; font-family: 'Liberation Sans', sans-serif; text-anchor: start; fill: #262626" x="912.537062" y="96.035925">Major Mean: 52.6</text> </g> </g> </g> <g id="axes_3"> <g id="patch_58"> <path d="M 52.92 664.685004 L 502.32 664.685004 L 502.32 383.407276 L 52.92 383.407276 z " style="fill: #eaeaf2"/> </g> <g id="matplotlib.axis_5"> <g id="xtick_10"> <g id="line2d_69"> <path d="M 94.689199 664.685004 L 94.689199 383.407276 " clip-path="url(#p091fe5c841)" style="fill: none; stroke: #ffffff; stroke-width: 0.8; stroke-linecap: round"/> </g> <g id="line2d_70"/> <g id="text_38"> <text style="font-size: 10px; font-family: 'Liberation Sans', sans-serif; text-anchor: middle; fill: #262626" x="94.689199" y="675.431879">1</text> </g> </g> <g id="xtick_11"> <g id="line2d_71"> <path d="M 155.666133 664.685004 L 155.666133 383.407276 " clip-path="url(#p091fe5c841)" style="fill: none; stroke: #ffffff; stroke-width: 0.8; stroke-linecap: round"/> </g> <g id="line2d_72"/> <g id="text_39"> <text style="font-size: 10px; font-family: 'Liberation Sans', sans-serif; text-anchor: middle; fill: #262626" x="155.666133" y="675.431879">2</text> </g> </g> <g id="xtick_12"> <g id="line2d_73"> <path d="M 216.643066 664.685004 L 216.643066 383.407276 " clip-path="url(#p091fe5c841)" style="fill: none; stroke: #ffffff; stroke-width: 0.8; stroke-linecap: round"/> </g> <g id="line2d_74"/> <g id="text_40"> <text style="font-size: 10px; font-family: 'Liberation Sans', sans-serif; text-anchor: middle; fill: #262626" x="216.643066" y="675.431879">3</text> </g> </g> <g id="xtick_13"> <g id="line2d_75"> <path d="M 277.62 664.685004 L 277.62 383.407276 " clip-path="url(#p091fe5c841)" style="fill: none; stroke: #ffffff; stroke-width: 0.8; stroke-linecap: round"/> </g> <g id="line2d_76"/> <g id="text_41"> <text style="font-size: 10px; font-family: 'Liberation Sans', sans-serif; text-anchor: middle; fill: #262626" x="277.62" y="675.431879">4</text> </g> </g> <g id="xtick_14"> <g id="line2d_77"> <path d="M 338.596934 664.685004 L 338.596934 383.407276 " clip-path="url(#p091fe5c841)" style="fill: none; stroke: #ffffff; stroke-width: 0.8; stroke-linecap: round"/> </g> <g id="line2d_78"/> <g id="text_42"> <text style="font-size: 10px; font-family: 'Liberation Sans', sans-serif; text-anchor: middle; fill: #262626" x="338.596934" y="675.431879">5</text> </g> </g> <g id="xtick_15"> <g id="line2d_79"> <path d="M 399.573867 664.685004 L 399.573867 383.407276 " clip-path="url(#p091fe5c841)" style="fill: none; stroke: #ffffff; stroke-width: 0.8; stroke-linecap: round"/> </g> <g id="line2d_80"/> <g id="text_43"> <text style="font-size: 10px; font-family: 'Liberation Sans', sans-serif; text-anchor: middle; fill: #262626" x="399.573867" y="675.431879">6</text> </g> </g> <g id="xtick_16"> <g id="line2d_81"> <path d="M 460.550801 664.685004 L 460.550801 383.407276 " clip-path="url(#p091fe5c841)" style="fill: none; stroke: #ffffff; stroke-width: 0.8; stroke-linecap: round"/> </g> <g id="line2d_82"/> <g id="text_44"> <text style="font-size: 10px; font-family: 'Liberation Sans', sans-serif; text-anchor: middle; fill: #262626" x="460.550801" y="675.431879">8</text> </g> </g> <g id="text_45"> <text style="font-size: 10px; font-family: 'Liberation Sans', sans-serif; text-anchor: middle; fill: #262626" x="277.62" y="688.753754">Number of Vehicles</text> </g> </g> <g id="matplotlib.axis_6"> <g id="ytick_18"> <g id="line2d_83"> <path d="M 52.92 664.685004 L 502.32 664.685004 " clip-path="url(#p091fe5c841)" style="fill: none; stroke: #ffffff; stroke-opacity: 0.5; stroke-width: 0.8; stroke-linecap: round"/> </g> <g id="line2d_84"/> <g id="text_46"> <text style="font-size: 10px; font-family: 'Liberation Sans', sans-serif; text-anchor: end; fill: #262626" x="49.42" y="668.308442">0</text> </g> </g> <g id="ytick_19"> <g id="line2d_85"> <path d="M 52.92 612.920067 L 502.32 612.920067 " clip-path="url(#p091fe5c841)" style="fill: none; stroke: #ffffff; stroke-opacity: 0.5; stroke-width: 0.8; stroke-linecap: round"/> </g> <g id="line2d_86"/> <g id="text_47"> <text style="font-size: 10px; font-family: 'Liberation Sans', sans-serif; text-anchor: end; fill: #262626" x="49.42" y="616.543505">2000</text> </g> </g> <g id="ytick_20"> <g id="line2d_87"> <path d="M 52.92 561.15513 L 502.32 561.15513 " clip-path="url(#p091fe5c841)" style="fill: none; stroke: #ffffff; stroke-opacity: 0.5; stroke-width: 0.8; stroke-linecap: round"/> </g> <g id="line2d_88"/> <g id="text_48"> <text style="font-size: 10px; font-family: 'Liberation Sans', sans-serif; text-anchor: end; fill: #262626" x="49.42" y="564.778567">4000</text> </g> </g> <g id="ytick_21"> <g id="line2d_89"> <path d="M 52.92 509.390192 L 502.32 509.390192 " clip-path="url(#p091fe5c841)" style="fill: none; stroke: #ffffff; stroke-opacity: 0.5; stroke-width: 0.8; stroke-linecap: round"/> </g> <g id="line2d_90"/> <g id="text_49"> <text style="font-size: 10px; font-family: 'Liberation Sans', sans-serif; text-anchor: end; fill: #262626" x="49.42" y="513.01363">6000</text> </g> </g> <g id="ytick_22"> <g id="line2d_91"> <path d="M 52.92 457.625255 L 502.32 457.625255 " clip-path="url(#p091fe5c841)" style="fill: none; stroke: #ffffff; stroke-opacity: 0.5; stroke-width: 0.8; stroke-linecap: round"/> </g> <g id="line2d_92"/> <g id="text_50"> <text style="font-size: 10px; font-family: 'Liberation Sans', sans-serif; text-anchor: end; fill: #262626" x="49.42" y="461.248692">8000</text> </g> </g> <g id="ytick_23"> <g id="line2d_93"> <path d="M 52.92 405.860318 L 502.32 405.860318 " clip-path="url(#p091fe5c841)" style="fill: none; stroke: #ffffff; stroke-opacity: 0.5; stroke-width: 0.8; stroke-linecap: round"/> </g> <g id="line2d_94"/> <g id="text_51"> <text style="font-size: 10px; font-family: 'Liberation Sans', sans-serif; text-anchor: end; fill: #262626" x="49.42" y="409.483755">10000</text> </g> </g> <g id="text_52"> <text style="font-size: 10px; font-family: 'Liberation Sans', sans-serif; text-anchor: middle; fill: #262626" x="15.540312" y="524.04614" transform="rotate(-90 15.540312 524.04614)">Number of Incidents</text> </g> </g> <g id="patch_59"> <path d="M 73.347273 664.685004 L 94.689199 664.685004 L 94.689199 396.801454 L 73.347273 396.801454 z " clip-path="url(#p091fe5c841)" style="fill: #3498db; opacity: 0.8"/> </g> <g id="patch_60"> <path d="M 134.324206 664.685004 L 155.666133 664.685004 L 155.666133 654.746136 L 134.324206 654.746136 z " clip-path="url(#p091fe5c841)" style="fill: #3498db; opacity: 0.8"/> </g> <g id="patch_61"> <path d="M 195.30114 664.685004 L 216.643066 664.685004 L 216.643066 662.821467 L 195.30114 662.821467 z " clip-path="url(#p091fe5c841)" style="fill: #3498db; opacity: 0.8"/> </g> <g id="patch_62"> <path d="M 256.278073 664.685004 L 277.62 664.685004 L 277.62 664.296767 L 256.278073 664.296767 z " clip-path="url(#p091fe5c841)" style="fill: #3498db; opacity: 0.8"/> </g> <g id="patch_63"> <path d="M 317.255007 664.685004 L 338.596934 664.685004 L 338.596934 664.374415 L 317.255007 664.374415 z " clip-path="url(#p091fe5c841)" style="fill: #3498db; opacity: 0.8"/> </g> <g id="patch_64"> <path d="M 378.23194 664.685004 L 399.573867 664.685004 L 399.573867 664.477945 L 378.23194 664.477945 z " clip-path="url(#p091fe5c841)" style="fill: #3498db; opacity: 0.8"/> </g> <g id="patch_65"> <path d="M 439.208874 664.685004 L 460.550801 664.685004 L 460.550801 664.555592 L 439.208874 664.555592 z " clip-path="url(#p091fe5c841)" style="fill: #3498db; opacity: 0.8"/> </g> <g id="patch_66"> <path d="M 94.689199 664.685004 L 116.031126 664.685004 L 116.031126 620.477748 L 94.689199 620.477748 z " clip-path="url(#p091fe5c841)" style="fill: #e74c3c; opacity: 0.8"/> </g> <g id="patch_67"> <path d="M 155.666133 664.685004 L 177.00806 664.685004 L 177.00806 661.216754 L 155.666133 661.216754 z " clip-path="url(#p091fe5c841)" style="fill: #e74c3c; opacity: 0.8"/> </g> <g id="patch_68"> <path d="M 216.643066 664.685004 L 237.984993 664.685004 L 237.984993 663.701471 L 216.643066 663.701471 z " clip-path="url(#p091fe5c841)" style="fill: #e74c3c; opacity: 0.8"/> </g> <g id="patch_69"> <path d="M 277.62 664.685004 L 298.961927 664.685004 L 298.961927 664.42618 L 277.62 664.42618 z " clip-path="url(#p091fe5c841)" style="fill: #e74c3c; opacity: 0.8"/> </g> <g id="patch_70"> <path d="M 338.596934 664.685004 L 359.93886 664.685004 L 359.93886 664.477945 L 338.596934 664.477945 z " clip-path="url(#p091fe5c841)" style="fill: #e74c3c; opacity: 0.8"/> </g> <g id="patch_71"> <path d="M 399.573867 664.685004 L 420.915794 664.685004 L 420.915794 664.685004 L 399.573867 664.685004 z " clip-path="url(#p091fe5c841)" style="fill: #e74c3c; opacity: 0.8"/> </g> <g id="patch_72"> <path d="M 460.550801 664.685004 L 481.892727 664.685004 L 481.892727 664.685004 L 460.550801 664.685004 z " clip-path="url(#p091fe5c841)" style="fill: #e74c3c; opacity: 0.8"/> </g> <g id="patch_73"> <path d="M 52.92 664.685004 L 52.92 383.407276 " style="fill: none"/> </g> <g id="patch_74"> <path d="M 502.32 664.685004 L 502.32 383.407276 " style="fill: none"/> </g> <g id="patch_75"> <path d="M 52.92 664.685004 L 502.32 664.685004 " style="fill: none"/> </g> <g id="patch_76"> <path d="M 52.92 383.407276 L 502.32 383.407276 " style="fill: none"/> </g> <g id="text_53"> <text style="font-size: 12px; font-family: 'Liberation Sans', sans-serif; text-anchor: middle; fill: #262626" x="277.62" y="377.407276">Incidents by Number of Vehicles Involved</text> </g> <g id="legend_2"> <g id="patch_77"> <path d="M 440.316875 399.654151 L 460.316875 399.654151 L 460.316875 392.654151 L 440.316875 392.654151 z " style="fill: #3498db; opacity: 0.8"/> </g> <g id="text_54"> <text style="font-size: 10px; font-family: 'Liberation Sans', sans-serif; text-anchor: start; fill: #262626" x="468.316875" y="399.654151">Minor</text> </g> <g id="patch_78"> <path d="M 440.316875 413.976026 L 460.316875 413.976026 L 460.316875 406.976026 L 440.316875 406.976026 z " style="fill: #e74c3c; opacity: 0.8"/> </g> <g id="text_55"> <text style="font-size: 10px; font-family: 'Liberation Sans', sans-serif; text-anchor: start; fill: #262626" x="468.316875" y="413.976026">Major</text> </g> </g> </g> <g id="axes_4"> <g id="table_1"> <g id="patch_79"> <path d="M 584.1381 457.298137 L 696.4251 457.298137 L 696.4251 430.598935 L 584.1381 430.598935 z " style="fill: #ffffff; stroke: #000000; stroke-linejoin: miter"/> </g> <g id="text_56"> <text style="font-size: 10px; font-family: 'Liberation Sans', sans-serif; text-anchor: middle; fill: #262626" x="640.2816" y="446.534473">Variable</text> </g> <g id="patch_80"> <path d="M 696.4251 457.298137 L 763.7973 457.298137 L 763.7973 430.598935 L 696.4251 430.598935 z " style="fill: #ffffff; stroke: #000000; stroke-linejoin: miter"/> </g> <g id="text_57"> <text style="font-size: 10px; font-family: 'Liberation Sans', sans-serif; text-anchor: middle; fill: #262626" x="730.1112" y="446.534473">Severity</text> </g> <g id="patch_81"> <path d="M 763.7973 457.298137 L 831.1695 457.298137 L 831.1695 430.598935 L 763.7973 430.598935 z " style="fill: #ffffff; stroke: #000000; stroke-linejoin: miter"/> </g> <g id="text_58"> <text style="font-size: 10px; font-family: 'Liberation Sans', sans-serif; text-anchor: middle; fill: #262626" x="797.4834" y="446.534473">Mean</text> </g> <g id="patch_82"> <path d="M 831.1695 457.298137 L 898.5417 457.298137 L 898.5417 430.598935 L 831.1695 430.598935 z " style="fill: #ffffff; stroke: #000000; stroke-linejoin: miter"/> </g> <g id="text_59"> <text style="font-size: 10px; font-family: 'Liberation Sans', sans-serif; text-anchor: middle; fill: #262626" x="864.8556" y="446.534473">Std Dev</text> </g> <g id="patch_83"> <path d="M 898.5417 457.298137 L 965.9139 457.298137 L 965.9139 430.598935 L 898.5417 430.598935 z " style="fill: #ffffff; stroke: #000000; stroke-linejoin: miter"/> </g> <g id="text_60"> <text style="font-size: 10px; font-family: 'Liberation Sans', sans-serif; text-anchor: middle; fill: #262626" x="932.2278" y="446.534473">Count</text> </g> <g id="patch_84"> <path d="M 584.1381 483.997338 L 696.4251 483.997338 L 696.4251 457.298137 L 584.1381 457.298137 z " style="fill: #ffffff; stroke: #000000; stroke-linejoin: miter"/> </g> <g id="text_61"> <text style="font-size: 10px; font-family: 'Liberation Sans', sans-serif; text-anchor: middle; fill: #262626" x="640.2816" y="473.233675">Driver Age</text> </g> <g id="patch_85"> <path d="M 696.4251 483.997338 L 763.7973 483.997338 L 763.7973 457.298137 L 696.4251 457.298137 z " style="fill: #ffffff; stroke: #000000; stroke-linejoin: miter"/> </g> <g id="text_62"> <text style="font-size: 10px; font-family: 'Liberation Sans', sans-serif; text-anchor: middle; fill: #262626" x="730.1112" y="473.233675">Minor</text> </g> <g id="patch_86"> <path d="M 763.7973 483.997338 L 831.1695 483.997338 L 831.1695 457.298137 L 763.7973 457.298137 z " style="fill: #ffffff; stroke: #000000; stroke-linejoin: miter"/> </g> <g id="text_63"> <text style="font-size: 10px; font-family: 'Liberation Sans', sans-serif; text-anchor: middle; fill: #262626" x="797.4834" y="473.233675">39.0</text> </g> <g id="patch_87"> <path d="M 831.1695 483.997338 L 898.5417 483.997338 L 898.5417 457.298137 L 831.1695 457.298137 z " style="fill: #ffffff; stroke: #000000; stroke-linejoin: miter"/> </g> <g id="text_64"> <text style="font-size: 10px; font-family: 'Liberation Sans', sans-serif; text-anchor: middle; fill: #262626" x="864.8556" y="473.233675">18.5</text> </g> <g id="patch_88"> <path d="M 898.5417 483.997338 L 965.9139 483.997338 L 965.9139 457.298137 L 898.5417 457.298137 z " style="fill: #ffffff; stroke: #000000; stroke-linejoin: miter"/> </g> <g id="text_65"> <text style="font-size: 10px; font-family: 'Liberation Sans', sans-serif; text-anchor: middle; fill: #262626" x="932.2278" y="473.233675">10,813</text> </g> <g id="patch_89"> <path d="M 584.1381 510.696539 L 696.4251 510.696539 L 696.4251 483.997338 L 584.1381 483.997338 z " style="fill: #ffffff; stroke: #000000; stroke-linejoin: miter"/> </g> <g id="text_66"> <text style="font-size: 10px; font-family: 'Liberation Sans', sans-serif; text-anchor: middle; fill: #262626" x="640.2816" y="499.932876">Driver Age</text> </g> <g id="patch_90"> <path d="M 696.4251 510.696539 L 763.7973 510.696539 L 763.7973 483.997338 L 696.4251 483.997338 z " style="fill: #ffffff; stroke: #000000; stroke-linejoin: miter"/> </g> <g id="text_67"> <text style="font-size: 10px; font-family: 'Liberation Sans', sans-serif; text-anchor: middle; fill: #262626" x="730.1112" y="499.932876">Major</text> </g> <g id="patch_91"> <path d="M 763.7973 510.696539 L 831.1695 510.696539 L 831.1695 483.997338 L 763.7973 483.997338 z " style="fill: #ffffff; stroke: #000000; stroke-linejoin: miter"/> </g> <g id="text_68"> <text style="font-size: 10px; font-family: 'Liberation Sans', sans-serif; text-anchor: middle; fill: #262626" x="797.4834" y="499.932876">37.9</text> </g> <g id="patch_92"> <path d="M 831.1695 510.696539 L 898.5417 510.696539 L 898.5417 483.997338 L 831.1695 483.997338 z " style="fill: #ffffff; stroke: #000000; stroke-linejoin: miter"/> </g> <g id="text_69"> <text style="font-size: 10px; font-family: 'Liberation Sans', sans-serif; text-anchor: middle; fill: #262626" x="864.8556" y="499.932876">19.2</text> </g> <g id="patch_93"> <path d="M 898.5417 510.696539 L 965.9139 510.696539 L 965.9139 483.997338 L 898.5417 483.997338 z " style="fill: #ffffff; stroke: #000000; stroke-linejoin: miter"/> </g> <g id="text_70"> <text style="font-size: 10px; font-family: 'Liberation Sans', sans-serif; text-anchor: middle; fill: #262626" x="932.2278" y="499.932876">1,856</text> </g> <g id="patch_94"> <path d="M 584.1381 537.395741 L 696.4251 537.395741 L 696.4251 510.696539 L 584.1381 510.696539 z " style="fill: #ffffff; stroke: #000000; stroke-linejoin: miter"/> </g> <g id="text_71"> <text style="font-size: 10px; font-family: 'Liberation Sans', sans-serif; text-anchor: middle; fill: #262626" x="640.2816" y="526.632078">Speed</text> </g> <g id="patch_95"> <path d="M 696.4251 537.395741 L 763.7973 537.395741 L 763.7973 510.696539 L 696.4251 510.696539 z " style="fill: #ffffff; stroke: #000000; stroke-linejoin: miter"/> </g> <g id="text_72"> <text style="font-size: 10px; font-family: 'Liberation Sans', sans-serif; text-anchor: middle; fill: #262626" x="730.1112" y="526.632078">Minor</text> </g> <g id="patch_96"> <path d="M 763.7973 537.395741 L 831.1695 537.395741 L 831.1695 510.696539 L 763.7973 510.696539 z " style="fill: #ffffff; stroke: #000000; stroke-linejoin: miter"/> </g> <g id="text_73"> <text style="font-size: 10px; font-family: 'Liberation Sans', sans-serif; text-anchor: middle; fill: #262626" x="797.4834" y="526.632078">48.0</text> </g> <g id="patch_97"> <path d="M 831.1695 537.395741 L 898.5417 537.395741 L 898.5417 510.696539 L 831.1695 510.696539 z " style="fill: #ffffff; stroke: #000000; stroke-linejoin: miter"/> </g> <g id="text_74"> <text style="font-size: 10px; font-family: 'Liberation Sans', sans-serif; text-anchor: middle; fill: #262626" x="864.8556" y="526.632078">10.8</text> </g> <g id="patch_98"> <path d="M 898.5417 537.395741 L 965.9139 537.395741 L 965.9139 510.696539 L 898.5417 510.696539 z " style="fill: #ffffff; stroke: #000000; stroke-linejoin: miter"/> </g> <g id="text_75"> <text style="font-size: 10px; font-family: 'Liberation Sans', sans-serif; text-anchor: middle; fill: #262626" x="932.2278" y="526.632078">10,813</text> </g> <g id="patch_99"> <path d="M 584.1381 564.094942 L 696.4251 564.094942 L 696.4251 537.395741 L 584.1381 537.395741 z " style="fill: #ffffff; stroke: #000000; stroke-linejoin: miter"/> </g> <g id="text_76"> <text style="font-size: 10px; font-family: 'Liberation Sans', sans-serif; text-anchor: middle; fill: #262626" x="640.2816" y="553.331279">Speed</text> </g> <g id="patch_100"> <path d="M 696.4251 564.094942 L 763.7973 564.094942 L 763.7973 537.395741 L 696.4251 537.395741 z " style="fill: #ffffff; stroke: #000000; stroke-linejoin: miter"/> </g> <g id="text_77"> <text style="font-size: 10px; font-family: 'Liberation Sans', sans-serif; text-anchor: middle; fill: #262626" x="730.1112" y="553.331279">Major</text> </g> <g id="patch_101"> <path d="M 763.7973 564.094942 L 831.1695 564.094942 L 831.1695 537.395741 L 763.7973 537.395741 z " style="fill: #ffffff; stroke: #000000; stroke-linejoin: miter"/> </g> <g id="text_78"> <text style="font-size: 10px; font-family: 'Liberation Sans', sans-serif; text-anchor: middle; fill: #262626" x="797.4834" y="553.331279">52.6</text> </g> <g id="patch_102"> <path d="M 831.1695 564.094942 L 898.5417 564.094942 L 898.5417 537.395741 L 831.1695 537.395741 z " style="fill: #ffffff; stroke: #000000; stroke-linejoin: miter"/> </g> <g id="text_79"> <text style="font-size: 10px; font-family: 'Liberation Sans', sans-serif; text-anchor: middle; fill: #262626" x="864.8556" y="553.331279">14.8</text> </g> <g id="patch_103"> <path d="M 898.5417 564.094942 L 965.9139 564.094942 L 965.9139 537.395741 L 898.5417 537.395741 z " style="fill: #ffffff; stroke: #000000; stroke-linejoin: miter"/> </g> <g id="text_80"> <text style="font-size: 10px; font-family: 'Liberation Sans', sans-serif; text-anchor: middle; fill: #262626" x="932.2278" y="553.331279">1,856</text> </g> <g id="patch_104"> <path d="M 584.1381 590.794144 L 696.4251 590.794144 L 696.4251 564.094942 L 584.1381 564.094942 z " style="fill: #ffffff; stroke: #000000; stroke-linejoin: miter"/> </g> <g id="text_81"> <text style="font-size: 10px; font-family: 'Liberation Sans', sans-serif; text-anchor: middle; fill: #262626" x="640.2816" y="580.030481">Number of vehicles</text> </g> <g id="patch_105"> <path d="M 696.4251 590.794144 L 763.7973 590.794144 L 763.7973 564.094942 L 696.4251 564.094942 z " style="fill: #ffffff; stroke: #000000; stroke-linejoin: miter"/> </g> <g id="text_82"> <text style="font-size: 10px; font-family: 'Liberation Sans', sans-serif; text-anchor: middle; fill: #262626" x="730.1112" y="580.030481">Minor</text> </g> <g id="patch_106"> <path d="M 763.7973 590.794144 L 831.1695 590.794144 L 831.1695 564.094942 L 763.7973 564.094942 z " style="fill: #ffffff; stroke: #000000; stroke-linejoin: miter"/> </g> <g id="text_83"> <text style="font-size: 10px; font-family: 'Liberation Sans', sans-serif; text-anchor: middle; fill: #262626" x="797.4834" y="580.030481">1.1</text> </g> <g id="patch_107"> <path d="M 831.1695 590.794144 L 898.5417 590.794144 L 898.5417 564.094942 L 831.1695 564.094942 z " style="fill: #ffffff; stroke: #000000; stroke-linejoin: miter"/> </g> <g id="text_84"> <text style="font-size: 10px; font-family: 'Liberation Sans', sans-serif; text-anchor: middle; fill: #262626" x="864.8556" y="580.030481">0.3</text> </g> <g id="patch_108"> <path d="M 898.5417 590.794144 L 965.9139 590.794144 L 965.9139 564.094942 L 898.5417 564.094942 z " style="fill: #ffffff; stroke: #000000; stroke-linejoin: miter"/> </g> <g id="text_85"> <text style="font-size: 10px; font-family: 'Liberation Sans', sans-serif; text-anchor: middle; fill: #262626" x="932.2278" y="580.030481">10,813</text> </g> <g id="patch_109"> <path d="M 584.1381 617.493345 L 696.4251 617.493345 L 696.4251 590.794144 L 584.1381 590.794144 z " style="fill: #ffffff; stroke: #000000; stroke-linejoin: miter"/> </g> <g id="text_86"> <text style="font-size: 10px; font-family: 'Liberation Sans', sans-serif; text-anchor: middle; fill: #262626" x="640.2816" y="606.729682">Number of vehicles</text> </g> <g id="patch_110"> <path d="M 696.4251 617.493345 L 763.7973 617.493345 L 763.7973 590.794144 L 696.4251 590.794144 z " style="fill: #ffffff; stroke: #000000; stroke-linejoin: miter"/> </g> <g id="text_87"> <text style="font-size: 10px; font-family: 'Liberation Sans', sans-serif; text-anchor: middle; fill: #262626" x="730.1112" y="606.729682">Major</text> </g> <g id="patch_111"> <path d="M 763.7973 617.493345 L 831.1695 617.493345 L 831.1695 590.794144 L 763.7973 590.794144 z " style="fill: #ffffff; stroke: #000000; stroke-linejoin: miter"/> </g> <g id="text_88"> <text style="font-size: 10px; font-family: 'Liberation Sans', sans-serif; text-anchor: middle; fill: #262626" x="797.4834" y="606.729682">1.1</text> </g> <g id="patch_112"> <path d="M 831.1695 617.493345 L 898.5417 617.493345 L 898.5417 590.794144 L 831.1695 590.794144 z " style="fill: #ffffff; stroke: #000000; stroke-linejoin: miter"/> </g> <g id="text_89"> <text style="font-size: 10px; font-family: 'Liberation Sans', sans-serif; text-anchor: middle; fill: #262626" x="864.8556" y="606.729682">0.5</text> </g> <g id="patch_113"> <path d="M 898.5417 617.493345 L 965.9139 617.493345 L 965.9139 590.794144 L 898.5417 590.794144 z " style="fill: #ffffff; stroke: #000000; stroke-linejoin: miter"/> </g> <g id="text_90"> <text style="font-size: 10px; font-family: 'Liberation Sans', sans-serif; text-anchor: middle; fill: #262626" x="932.2278" y="606.729682">1,856</text> </g> </g> <g id="text_91"> <text style="font-weight: 700; font-size: 12px; font-family: 'Liberation Sans', sans-serif; text-anchor: middle; fill: #262626" x="775.026" y="363.34339">Summary Statistics</text> </g> </g> <g id="text_92"> <text style="font-size: 16px; font-family: 'Liberation Sans', sans-serif; text-anchor: middle; fill: #262626" x="504" y="12.156167">Numerical Variables Analysis</text> </g> </g> <defs> <clipPath id="p9fd3da8a66"> <rect x="52.92" y="36.823425" width="449.4" height="281.011535"/> </clipPath> <clipPath id="p50f9d82203"> <rect x="550.452" y="36.823425" width="448.896" height="281.011535"/> </clipPath> <clipPath id="p091fe5c841"> <rect x="52.92" y="383.407276" width="449.4" height="281.277728"/> </clipPath> </defs> </svg> 
<div class="edge"></div>
</body></html>
